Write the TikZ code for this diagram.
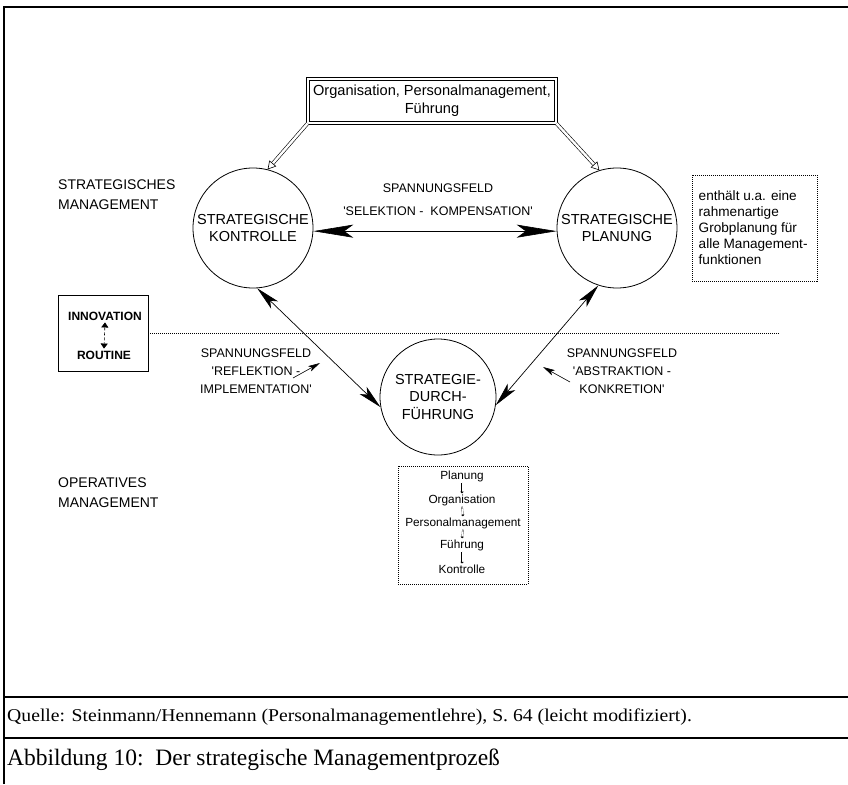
\documentclass[tikz,border=0pt]{standalone}
\usepackage{fontspec}
\usepackage{graphicx}
\setmainfont{Liberation Serif}
\newfontfamily\hv{Liberation Sans}
\usetikzlibrary{arrows.meta}
\begin{document}
\begin{tikzpicture}[x=1pt,y=-1pt,
  frame/.style={line width=1.4pt},
  lbl/.style={font=\hv\fontsize{12.5}{18}\selectfont, align=center, inner sep=0pt},
  side/.style={font=\hv\fontsize{14}{20}\selectfont, align=left, inner sep=0pt, anchor=west},
  circ/.style={circle, draw, line width=0.8pt, minimum size=120pt, inner sep=0pt, align=center, font=\hv\fontsize{14.5}{17.5}\selectfont},
  dotline/.style={densely dotted, line width=1pt},
  dotbox/.style={draw, densely dotted, line width=1pt, inner sep=0pt},
  bigarrow/.style={line width=0.6pt, {Stealth[length=40pt,width=13pt,inset=9pt]}-{Stealth[length=40pt,width=13pt,inset=9pt]}},
  diagarrow/.style={line width=0.7pt, {Stealth[length=24pt,width=10pt,inset=6pt]}-{Stealth[length=24pt,width=10pt,inset=6pt]}},
  pointer/.style={line width=0.6pt, -{Stealth[length=12pt,width=6pt,inset=3pt]}},
  hollow/.style={double, double distance=2.4pt, line width=0.6pt, -{Triangle[open, length=8pt, width=9pt]}},
  tinyarrow/.style={line width=0.3pt, double, double distance=0.9pt, -{Triangle[length=1.6pt, width=3.2pt]}, shorten <=1pt, shorten >=1pt},
  plan/.style={font=\hv\fontsize{11.8}{14}\selectfont, inner sep=0pt},
]
\useasboundingbox (0,0) rectangle (848,784);
% frame
\draw[frame] (4,784) -- (4,7) -- (848,7);
\draw[frame] (4,697) -- (848,697);
\draw[frame] (4,738) -- (848,738);

% top box
\node[draw, double, double distance=1.8pt, line width=0.8pt, minimum width=248pt, minimum height=44pt, inner sep=0pt,
      align=center, font=\hv\fontsize{14.6}{18}\selectfont] (top) at (432,101)
      {Organisation, Personalmanagement,\\Führung};

% circles
\node[circ] (ctrl) at (253,228) {STRATEGISCHE\\KONTROLLE};
\node[circ] (plan) at (617,228) {STRATEGISCHE\\PLANUNG};
\node[circ, minimum size=116pt] (exec) at (438,397) {STRATEGIE-\\DURCH-\\FÜHRUNG};

% hollow arrows
\draw[hollow] (top.south west) -- (ctrl.76);
\draw[hollow] (top.south east) -- (plan.107);

% main arrows
\draw[bigarrow] (ctrl.-3) -- (plan.183);
\draw[diagarrow] (ctrl.-86) -- (exec.190);
\draw[diagarrow] (exec.-8) -- (plan.252);

% labels
\node[lbl, font=\hv\fontsize{12.5}{23}\selectfont] (sel) at (438,200) {SPANNUNGSFELD\\'SELEKTION -\ \ KOMPENSATION'};
\node[lbl] (refl) at (256,371) {SPANNUNGSFELD\\'REFLEKTION -\\IMPLEMENTATION'};
\node[lbl] (abs) at (622,371) {SPANNUNGSFELD\\'ABSTRAKTION -\\KONKRETION'};
\coordinate (r1) at (293,378);
\coordinate (r2) at (320,363);
\draw[pointer] (r1) -- (r2);
\coordinate (a1) at (570,382);
\coordinate (a2) at (543,367);
\draw[pointer] (a1) -- (a2);

% side labels
\node[side] (sm) at (58,195) {STRATEGISCHES\\MANAGEMENT};
\node[side] (om) at (58,493) {OPERATIVES\\MANAGEMENT};

% innovation box
\node[draw, line width=0.8pt, minimum width=90pt, minimum height=76pt, inner sep=0pt] (ir) at (103,333) {};
\node[font=\hv\bfseries\fontsize{12}{14}\selectfont, inner sep=0pt] (inno) at (105,316) {INNOVATION};
\node[font=\hv\bfseries\fontsize{12}{14}\selectfont, inner sep=0pt] (rout) at (104,355) {ROUTINE};
\draw[line width=0.6pt, densely dashed, {Triangle[length=5pt,width=7pt]}-{Triangle[length=5pt,width=7pt]}]
  ([yshift=-2pt]inno.south) -- ([yshift=2pt]rout.north);
\coordinate (dlend) at (780,333);
\draw[dotline] (ir.east) -- (dlend);

% note box
\node[dotbox, minimum width=125pt, minimum height=106pt] (notebox) at (754.5,228) {};
\node[anchor=west, align=left, inner sep=0pt, font=\hv\fontsize{13.6}{16}\selectfont] (note) at ([xshift=7pt]notebox.west)
  {enthält u.a. eine\\rahmenartige\\Grobplanung für\\alle Management-\\funktionen};

% planung box
\node[dotbox, minimum width=130pt, minimum height=118pt] (pbox) at (463,525) {};
\node[plan] (p1) at (462,476) {Planung};
\node[plan] (p2) at (462,500) {Organisation};
\node[plan] (p3) at (463,523) {Personalmanagement};
\node[plan] (p4) at (462,545) {Führung};
\node[plan] (p5) at (462,569) {Kontrolle};
\draw[tinyarrow] (p1.south) -- (p2.north);
\draw[tinyarrow] (p2.south) -- (p3.north);
\draw[tinyarrow] (p3.south) -- (p4.north);
\draw[tinyarrow] (p4.south) -- (p5.north);

% caption
\node[anchor=west, inner sep=0pt, font=\fontsize{18}{21}\selectfont] (src) at (7,717)
  {\scalebox{1.094}[1]{Quelle: Steinmann/Hennemann (Personalmanagementlehre), S. 64 (leicht modifiziert).}};
\node[anchor=west, inner sep=0pt, font=\fontsize{23.5}{27}\selectfont] (cap) at (7,760)
  {Abbildung 10:\ \ Der strategische Managementprozeß};
\end{tikzpicture}
\end{document}
